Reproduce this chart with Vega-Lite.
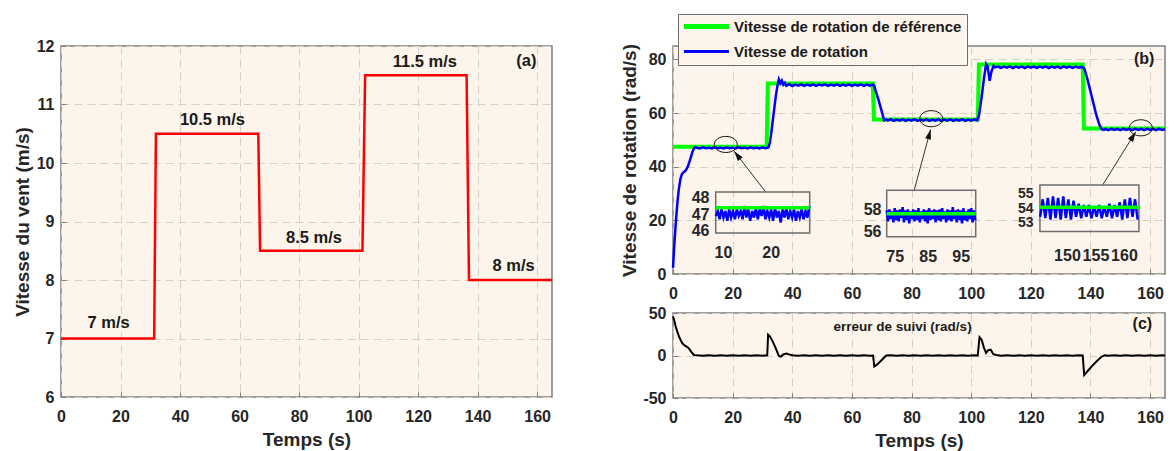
{
"$schema": "https://vega.github.io/schema/vega-lite/v6.json",
"background": "white",
"padding": {"left": 12, "top": 13, "right": 5, "bottom": 5},
"bounds": "flush",
"spacing": 121,
"datasets": {
 "wind": [{"t":0,"v":7},{"t":31.3,"v":7},{"t":31.9,"v":10.5},{"t":66.3,"v":10.5},{"t":66.9,"v":8.5},{"t":101.3,"v":8.5},{"t":102.2,"v":11.5},{"t":136.3,"v":11.5},{"t":137.1,"v":8},{"t":165,"v":8}],
 "windLabels": [{"t":16,"v":7.26,"label":"7 m/s"},{"t":50.9,"v":10.74,"label":"10.5 m/s"},{"t":85,"v":8.71,"label":"8.5 m/s"},{"t":122.3,"v":11.72,"label":"11.5 m/s"},{"t":152.1,"v":8.24,"label":"8 m/s"},{"t":156.4,"v":11.74,"label":"(a)"}],
 "ref": [{"t":0,"v":47.4},{"t":31.4,"v":47.4},{"t":31.8,"v":71.0},{"t":67.0,"v":71.0},{"t":67.4,"v":57.6},{"t":102.2,"v":57.6},{"t":102.6,"v":78.1},{"t":137.4,"v":78.1},{"t":137.8,"v":54.2},{"t":165,"v":54.2}],
 "speed": [{"t":0,"v":2.3},{"t":0.5,"v":12},{"t":1,"v":20},{"t":1.5,"v":27},{"t":2,"v":32},{"t":2.5,"v":35.5},{"t":3,"v":37.2},{"t":3.5,"v":37.9},{"t":4,"v":38.3},{"t":4.5,"v":39},{"t":5,"v":40.2},{"t":5.5,"v":41.8},{"t":6,"v":43.6},{"t":6.5,"v":45.4},{"t":7,"v":46.8},{"t":7.5,"v":47.3},{"t":8,"v":47.0},{"t":9,"v":46.8},{"t":10,"v":47.2},{"t":11,"v":46.9},{"t":12,"v":47.1},{"t":13,"v":46.8},{"t":14,"v":47.2},{"t":15,"v":46.9},{"t":16,"v":47.1},{"t":17,"v":46.8},{"t":18,"v":47.2},{"t":19,"v":46.9},{"t":20,"v":47.1},{"t":21,"v":46.8},{"t":22,"v":47.2},{"t":23,"v":46.9},{"t":24,"v":47.1},{"t":25,"v":46.8},{"t":26,"v":47.2},{"t":27,"v":46.9},{"t":28,"v":47.1},{"t":29,"v":46.8},{"t":30,"v":47.2},{"t":31,"v":46.9},{"t":32,"v":47.2},{"t":32.5,"v":49},{"t":33,"v":53},{"t":33.5,"v":57.5},{"t":34,"v":62},{"t":34.5,"v":66.5},{"t":35,"v":70},{"t":35.5,"v":72.6},{"t":36,"v":71.2},{"t":36.5,"v":72.1},{"t":37,"v":70.6},{"t":37.5,"v":71.3},{"t":38,"v":70.2},{"t":39,"v":70.8},{"t":40,"v":70.1},{"t":41,"v":70.6},{"t":42,"v":70.2},{"t":43,"v":70.7},{"t":44,"v":70.1},{"t":45,"v":70.6},{"t":46,"v":70.2},{"t":47,"v":70.7},{"t":48,"v":70.1},{"t":49,"v":70.6},{"t":50,"v":70.3},{"t":51,"v":70.7},{"t":52,"v":70.1},{"t":53,"v":70.6},{"t":54,"v":70.2},{"t":55,"v":70.7},{"t":56,"v":70.1},{"t":57,"v":70.6},{"t":58,"v":70.2},{"t":59,"v":70.7},{"t":60,"v":70.1},{"t":61,"v":70.6},{"t":62,"v":70.2},{"t":63,"v":70.7},{"t":64,"v":70.1},{"t":65,"v":70.6},{"t":66,"v":70.2},{"t":67,"v":70.6},{"t":67.5,"v":70.2},{"t":68,"v":68.2},{"t":69,"v":64.6},{"t":70,"v":60.6},{"t":70.8,"v":57.3},{"t":71.5,"v":57.6},{"t":72,"v":57.2},{"t":73,"v":57.7},{"t":74,"v":57.1},{"t":75,"v":57.6},{"t":76,"v":57.2},{"t":77,"v":57.7},{"t":78,"v":57.1},{"t":79,"v":57.6},{"t":80,"v":57.2},{"t":81,"v":57.7},{"t":82,"v":57.1},{"t":83,"v":57.6},{"t":84,"v":57.2},{"t":85,"v":57.7},{"t":86,"v":57.1},{"t":87,"v":57.6},{"t":88,"v":57.2},{"t":89,"v":57.7},{"t":90,"v":57.1},{"t":91,"v":57.6},{"t":92,"v":57.2},{"t":93,"v":57.7},{"t":94,"v":57.1},{"t":95,"v":57.6},{"t":96,"v":57.2},{"t":97,"v":57.7},{"t":98,"v":57.1},{"t":99,"v":57.6},{"t":100,"v":57.2},{"t":101,"v":57.7},{"t":102,"v":57.3},{"t":102.6,"v":59},{"t":103.5,"v":66},{"t":104.3,"v":73},{"t":105,"v":78.3},{"t":105.5,"v":77.4},{"t":106.2,"v":72},{"t":106.8,"v":75.5},{"t":107.5,"v":77.6},{"t":108,"v":77.0},{"t":109,"v":77.3},{"t":110,"v":76.8},{"t":111,"v":77.3},{"t":112,"v":76.9},{"t":113,"v":77.4},{"t":114,"v":76.8},{"t":115,"v":77.3},{"t":116,"v":76.9},{"t":117,"v":77.3},{"t":118,"v":76.8},{"t":119,"v":77.4},{"t":120,"v":76.9},{"t":121,"v":77.3},{"t":122,"v":76.8},{"t":123,"v":77.3},{"t":124,"v":76.9},{"t":125,"v":77.4},{"t":126,"v":76.8},{"t":127,"v":77.3},{"t":128,"v":76.9},{"t":129,"v":77.3},{"t":130,"v":76.8},{"t":131,"v":77.4},{"t":132,"v":76.9},{"t":133,"v":77.3},{"t":134,"v":76.8},{"t":135,"v":77.3},{"t":136,"v":76.9},{"t":137,"v":77.2},{"t":137.6,"v":77.0},{"t":138,"v":76.4},{"t":139,"v":72.6},{"t":140,"v":68.1},{"t":141,"v":63.6},{"t":142,"v":59.1},{"t":143,"v":55.6},{"t":143.8,"v":54.0},{"t":144.5,"v":53.7},{"t":145,"v":54.1},{"t":146,"v":53.6},{"t":147,"v":54.2},{"t":148,"v":53.7},{"t":149,"v":54.1},{"t":150,"v":53.6},{"t":151,"v":54.2},{"t":152,"v":53.7},{"t":153,"v":54.1},{"t":154,"v":53.6},{"t":155,"v":54.2},{"t":156,"v":53.7},{"t":157,"v":54.1},{"t":158,"v":53.6},{"t":159,"v":54.2},{"t":160,"v":53.7},{"t":161,"v":54.1},{"t":162,"v":53.6},{"t":163,"v":54.2},{"t":164,"v":53.7},{"t":165,"v":54.0}],
 "err": [{"t":0,"v":46},{"t":0.5,"v":40},{"t":1,"v":33},{"t":1.5,"v":27.5},{"t":2,"v":22.5},{"t":2.6,"v":18},{"t":3.2,"v":14},{"t":4,"v":11.5},{"t":5,"v":9.5},{"t":5.5,"v":7.5},{"t":6.2,"v":4},{"t":7,"v":0.6},{"t":8,"v":0.2},{"t":10,"v":-0.3},{"t":12,"v":0.3},{"t":14,"v":-0.2},{"t":16,"v":0.3},{"t":18,"v":-0.3},{"t":20,"v":0.2},{"t":22,"v":-0.2},{"t":24,"v":0.3},{"t":26,"v":-0.3},{"t":28,"v":0.2},{"t":30,"v":-0.2},{"t":31.6,"v":0.2},{"t":31.9,"v":24.5},{"t":32.5,"v":22.5},{"t":33.5,"v":16},{"t":34.5,"v":8},{"t":35.5,"v":-0.5},{"t":36.2,"v":-1.2},{"t":37,"v":1.3},{"t":38,"v":2.3},{"t":39,"v":1.2},{"t":40,"v":0.4},{"t":42,"v":-0.2},{"t":44,"v":0.3},{"t":46,"v":-0.3},{"t":48,"v":0.2},{"t":50,"v":-0.2},{"t":52,"v":0.3},{"t":54,"v":-0.3},{"t":56,"v":0.2},{"t":58,"v":-0.2},{"t":60,"v":0.3},{"t":62,"v":-0.3},{"t":64,"v":0.2},{"t":66,"v":-0.2},{"t":67.1,"v":0},{"t":67.5,"v":-13},{"t":68.5,"v":-10.5},{"t":69.5,"v":-7},{"t":70.5,"v":-3.5},{"t":71.5,"v":0},{"t":73,"v":0.3},{"t":75,"v":-0.3},{"t":77,"v":0.2},{"t":79,"v":-0.2},{"t":81,"v":0.3},{"t":83,"v":-0.3},{"t":85,"v":0.2},{"t":87,"v":-0.2},{"t":89,"v":0.3},{"t":91,"v":-0.3},{"t":93,"v":0.2},{"t":95,"v":-0.2},{"t":97,"v":0.3},{"t":99,"v":-0.3},{"t":101,"v":0.2},{"t":102.2,"v":0.1},{"t":102.8,"v":21.5},{"t":103.5,"v":18.5},{"t":104.3,"v":9},{"t":105,"v":3},{"t":105.8,"v":6.5},{"t":106.6,"v":6.8},{"t":107.4,"v":1.5},{"t":108.5,"v":0.5},{"t":110,"v":-0.2},{"t":112,"v":0.3},{"t":114,"v":-0.3},{"t":116,"v":0.2},{"t":118,"v":-0.2},{"t":120,"v":0.3},{"t":122,"v":-0.3},{"t":124,"v":0.2},{"t":126,"v":-0.2},{"t":128,"v":0.3},{"t":130,"v":-0.3},{"t":132,"v":0.2},{"t":134,"v":-0.2},{"t":136,"v":0.3},{"t":137.4,"v":0.1},{"t":137.9,"v":-23},{"t":139,"v":-18.5},{"t":140.5,"v":-12.5},{"t":142,"v":-7},{"t":143.5,"v":-2},{"t":144.7,"v":0.3},{"t":146,"v":-0.2},{"t":148,"v":0.3},{"t":150,"v":-0.3},{"t":152,"v":0.2},{"t":154,"v":-0.2},{"t":156,"v":0.3},{"t":158,"v":-0.3},{"t":160,"v":0.2},{"t":162,"v":-0.2},{"t":164,"v":0.3},{"t":165,"v":0}],
 "zoomMarks": [{"t":17.7,"v":48.3},{"t":86.6,"v":57.9},{"t":156.9,"v":54.5}],
 "arrows": [{"id":1,"t":31.1,"v":30.55,"t2":20.5,"v2":45.8},{"id":2,"t":80.8,"v":30.9,"t2":86.4,"v2":53.9},{"id":3,"t":144.0,"v":33.0,"t2":155.2,"v2":53.0}],
 "boxes": [{"id":1,"t":8.47,"t2":28.18,"v":45.87,"v2":48.35},{"id":2,"t":72.58,"t2":99.55,"v":55.47,"v2":59.75},{"id":3,"t":145.26,"t2":162.63,"v":52.38,"v2":55.59}],
 "inRef": [{"id":1,"t":8.47,"v":47.4},{"id":1,"t":28.18,"v":47.4},{"id":2,"t":72.58,"v":57.6},{"id":2,"t":99.55,"v":57.6},{"id":3,"t":145.26,"v":54.05},{"id":3,"t":162.63,"v":54.05}],
 "in1": [{"t":8.5,"v":46.9},{"t":8.9,"v":47.2},{"t":9.3,"v":46.7},{"t":9.7,"v":47.3},{"t":10.1,"v":46.8},{"t":10.5,"v":47.2},{"t":10.9,"v":46.6},{"t":11.3,"v":47.3},{"t":11.7,"v":46.8},{"t":12.1,"v":47.2},{"t":12.5,"v":46.7},{"t":12.9,"v":47.3},{"t":13.3,"v":46.9},{"t":13.7,"v":47.2},{"t":14.1,"v":46.7},{"t":14.5,"v":47.5},{"t":14.9,"v":46.8},{"t":15.3,"v":47.3},{"t":15.7,"v":46.6},{"t":16.1,"v":47.2},{"t":16.5,"v":46.8},{"t":16.9,"v":47.4},{"t":17.3,"v":46.7},{"t":17.7,"v":47.3},{"t":18.1,"v":46.9},{"t":18.5,"v":47.5},{"t":18.9,"v":46.7},{"t":19.3,"v":47.2},{"t":19.7,"v":46.8},{"t":20.1,"v":47.3},{"t":20.5,"v":46.6},{"t":20.9,"v":47.4},{"t":21.3,"v":46.8},{"t":21.7,"v":47.2},{"t":22.1,"v":46.5},{"t":22.5,"v":47.3},{"t":22.9,"v":46.8},{"t":23.3,"v":47.4},{"t":23.7,"v":46.7},{"t":24.1,"v":47.2},{"t":24.5,"v":46.8},{"t":24.9,"v":47.3},{"t":25.3,"v":46.6},{"t":25.7,"v":47.2},{"t":26.1,"v":46.8},{"t":26.5,"v":47.3},{"t":26.9,"v":46.7},{"t":27.3,"v":47.2},{"t":27.7,"v":46.8},{"t":28.1,"v":47.5}],
 "in2": [{"t":72.6,"v":57.9},{"t":73.0,"v":56.9},{"t":73.4,"v":58.0},{"t":73.8,"v":57.1},{"t":74.2,"v":57.8},{"t":74.6,"v":56.8},{"t":75.0,"v":58.1},{"t":75.4,"v":57.0},{"t":75.8,"v":57.9},{"t":76.2,"v":56.9},{"t":76.6,"v":58.0},{"t":77.0,"v":57.2},{"t":77.4,"v":58.2},{"t":77.8,"v":56.8},{"t":78.2,"v":57.9},{"t":78.6,"v":57.0},{"t":79.0,"v":58.0},{"t":79.4,"v":56.7},{"t":79.8,"v":57.8},{"t":80.2,"v":57.1},{"t":80.6,"v":58.0},{"t":81.0,"v":56.9},{"t":81.4,"v":57.9},{"t":81.8,"v":57.0},{"t":82.2,"v":58.1},{"t":82.6,"v":56.8},{"t":83.0,"v":57.8},{"t":83.4,"v":57.1},{"t":83.8,"v":58.0},{"t":84.2,"v":56.9},{"t":84.6,"v":57.9},{"t":85.0,"v":56.7},{"t":85.4,"v":58.1},{"t":85.8,"v":57.0},{"t":86.2,"v":57.9},{"t":86.6,"v":57.1},{"t":87.0,"v":58.0},{"t":87.4,"v":56.8},{"t":87.8,"v":57.9},{"t":88.2,"v":57.0},{"t":88.6,"v":58.0},{"t":89.0,"v":56.9},{"t":89.4,"v":58.1},{"t":89.8,"v":57.1},{"t":90.2,"v":57.8},{"t":90.6,"v":56.8},{"t":91.0,"v":58.0},{"t":91.4,"v":57.0},{"t":91.8,"v":57.9},{"t":92.2,"v":56.9},{"t":92.6,"v":58.2},{"t":93.0,"v":57.1},{"t":93.4,"v":57.9},{"t":93.8,"v":56.8},{"t":94.2,"v":58.0},{"t":94.6,"v":57.0},{"t":95.0,"v":57.9},{"t":95.4,"v":56.7},{"t":95.8,"v":58.1},{"t":96.2,"v":57.0},{"t":96.6,"v":57.8},{"t":97.0,"v":56.9},{"t":97.4,"v":58.0},{"t":97.8,"v":57.1},{"t":98.2,"v":58.1},{"t":98.6,"v":56.8},{"t":99.0,"v":57.9},{"t":99.4,"v":57.0}],
 "in3": [{"t":145.3,"v":53.4},{"t":145.75,"v":54.6},{"t":146.2,"v":53.3},{"t":146.65,"v":54.7},{"t":147.1,"v":53.2},{"t":147.55,"v":54.8},{"t":148.0,"v":53.3},{"t":148.45,"v":54.7},{"t":148.9,"v":53.2},{"t":149.35,"v":54.8},{"t":149.8,"v":53.3},{"t":150.25,"v":54.6},{"t":150.7,"v":53.2},{"t":151.15,"v":54.5},{"t":151.6,"v":53.4},{"t":152.05,"v":54.3},{"t":152.5,"v":53.3},{"t":152.95,"v":54.2},{"t":153.4,"v":53.4},{"t":153.85,"v":54.2},{"t":154.3,"v":53.3},{"t":154.75,"v":54.1},{"t":155.2,"v":53.4},{"t":155.65,"v":54.2},{"t":156.1,"v":53.3},{"t":156.55,"v":54.1},{"t":157.0,"v":53.4},{"t":157.45,"v":54.3},{"t":157.9,"v":53.3},{"t":158.35,"v":54.2},{"t":158.8,"v":53.4},{"t":159.25,"v":54.4},{"t":159.7,"v":53.2},{"t":160.15,"v":54.6},{"t":160.6,"v":53.3},{"t":161.05,"v":54.7},{"t":161.5,"v":53.4},{"t":161.95,"v":54.6},{"t":162.4,"v":53.2}]
},
"hconcat": [
 {
  "width": 491, "height": 351,
  "layer": [
   {"data": {"name": "wind"}, "mark": {"type": "line", "color": "#ff0000", "strokeWidth": 2.5},
    "encoding": {
     "x": {"field": "t", "type": "quantitative", "scale": {"domain": [0, 165], "nice": false, "zero": false}, "axis": {"values": [0,20,40,60,80,100,120,140,160], "title": "Temps (s)", "titlePadding": 6}},
     "y": {"field": "v", "type": "quantitative", "scale": {"domain": [6, 12], "nice": false, "zero": false}, "axis": {"values": [6,7,8,9,10,11,12], "title": "Vitesse du vent (m/s)", "titlePadding": 4}}
    }},
   {"data": {"name": "windLabels"}, "mark": {"type": "text", "fontSize": 16.5, "color": "#1a1a1a", "baseline": "middle"},
    "encoding": {"x": {"field": "t", "type": "quantitative"}, "y": {"field": "v", "type": "quantitative"}, "text": {"field": "label"}}}
  ]
 },
 {
  "vconcat": [
   {
    "width": 492, "height": 228,
    "layer": [
     {
      "layer": [
       {"data": {"name": "ref"}, "mark": {"type": "line", "strokeWidth": 4},
        "encoding": {
         "x": {"field": "t", "type": "quantitative", "scale": {"domain": [0, 165], "nice": false, "zero": false}, "axis": {"values": [0,20,40,60,80,100,120,140,160], "title": null}},
         "y": {"field": "v", "type": "quantitative", "scale": {"domain": [0, 85], "nice": false, "zero": false}, "axis": {"values": [0,20,40,60,80], "title": "Vitesse de rotation (rad/s)", "titlePadding": 9}},
         "color": {"datum": "Vitesse de rotation de référence", "type": "nominal",
           "scale": {"domain": ["Vitesse de rotation de référence", "Vitesse de rotation"], "range": ["#00ff00", "#0000ff"]},
           "legend": {"orient": "none", "legendX": 617, "legendY": -32, "title": null, "symbolType": "M-3,0H3", "symbolSize": 225, "symbolStrokeWidth": 4, "symbolOffset": 16, "labelOffset": 20, "labelFontSize": 15, "labelFont": "Liberation Sans", "labelFontWeight": "bold", "labelColor": "#1a1a1a", "labelLimit": 400, "fillColor": "#fdf5eb", "strokeColor": "#6e6e6e", "padding": 5, "rowPadding": 7,
             "encode": {"symbols": {"update": {"strokeWidth": {"signal": "datum.value === 'Vitesse de rotation' ? 3 : 5"}}}}}
         }
        }},
       {"data": {"name": "speed"}, "mark": {"type": "line", "strokeWidth": 2.5},
        "encoding": {
         "x": {"field": "t", "type": "quantitative"},
         "y": {"field": "v", "type": "quantitative"},
         "color": {"datum": "Vitesse de rotation", "type": "nominal"}
        }},
       {"data": {"name": "zoomMarks"}, "mark": {"type": "point", "shape": "M-1,0A1,0.7,0,1,0,1,0A1,0.7,0,1,0,-1,0Z", "size": 529, "filled": false, "stroke": "#111111", "strokeWidth": 1, "opacity": 1},
        "encoding": {"x": {"field": "t", "type": "quantitative"}, "y": {"field": "v", "type": "quantitative"}}},
       {"data": {"name": "arrows"}, "mark": {"type": "rule", "color": "#333333", "strokeWidth": 1},
        "encoding": {"x": {"field": "t", "type": "quantitative"}, "y": {"field": "v", "type": "quantitative"}, "x2": {"field": "t2"}, "y2": {"field": "v2"}}},
       {"data": {"name": "arrows"}, "transform": [{"filter": "datum.id == 1"}], "mark": {"type": "point", "shape": "M0,0L0.6,2L-0.6,2Z", "size": 100, "filled": true, "color": "#111111", "opacity": 1, "angle": 322},
        "encoding": {"x": {"field": "t2", "type": "quantitative"}, "y": {"field": "v2", "type": "quantitative"}}},
       {"data": {"name": "arrows"}, "transform": [{"filter": "datum.id == 2"}], "mark": {"type": "point", "shape": "M0,0L0.6,2L-0.6,2Z", "size": 100, "filled": true, "color": "#111111", "opacity": 1, "angle": 15},
        "encoding": {"x": {"field": "t2", "type": "quantitative"}, "y": {"field": "v2", "type": "quantitative"}}},
       {"data": {"name": "arrows"}, "transform": [{"filter": "datum.id == 3"}], "mark": {"type": "point", "shape": "M0,0L0.6,2L-0.6,2Z", "size": 100, "filled": true, "color": "#111111", "opacity": 1, "angle": 32},
        "encoding": {"x": {"field": "t2", "type": "quantitative"}, "y": {"field": "v2", "type": "quantitative"}}},
       {"data": {"values": [{"t": 158, "v": 80, "label": "(b)"}]}, "mark": {"type": "text", "fontSize": 16, "color": "#1a1a1a", "baseline": "middle"},
        "encoding": {"x": {"field": "t", "type": "quantitative"}, "y": {"field": "v", "type": "quantitative"}, "text": {"field": "label"}}}
      ]
     },
     {
      "layer": [
       {"data": {"name": "boxes"}, "transform": [{"filter": "datum.id == 1"}], "mark": {"type": "rect", "filled": false, "stroke": "#6e6e6e", "strokeWidth": 1.5},
        "encoding": {
         "x": {"field": "t", "type": "quantitative", "scale": {"domain": [-0.48, 102.66], "nice": false, "zero": false}, "axis": {"orient": "bottom", "offset": -30, "values": [10, 20], "grid": false, "ticks": false, "tickSize": 0, "domain": false, "labelPadding": 0, "title": null}},
         "x2": {"field": "t2"},
         "y": {"field": "v", "type": "quantitative", "scale": {"domain": [43.38, 57.2], "nice": false, "zero": false}, "axis": {"orient": "left", "offset": -36, "values": [46, 47, 48], "grid": false, "ticks": false, "tickSize": 0, "domain": false, "labelPadding": 0, "title": null}},
         "y2": {"field": "v2"}
        }},
       {"data": {"name": "in1"}, "mark": {"type": "line", "color": "#0000ff", "strokeWidth": 2.5},
        "encoding": {"x": {"field": "t", "type": "quantitative"}, "y": {"field": "v", "type": "quantitative"}}},
       {"data": {"name": "inRef"}, "transform": [{"filter": "datum.id == 1"}], "mark": {"type": "line", "color": "#00ff00", "strokeWidth": 3.5},
        "encoding": {"x": {"field": "t", "type": "quantitative"}, "y": {"field": "v", "type": "quantitative"}}}
      ]
     },
     {
      "layer": [
       {"data": {"name": "boxes"}, "transform": [{"filter": "datum.id == 2"}], "mark": {"type": "rect", "filled": false, "stroke": "#6e6e6e", "strokeWidth": 1.5},
        "encoding": {
         "x": {"field": "t", "type": "quantitative", "scale": {"domain": [7.82, 156.91], "nice": false, "zero": false}, "axis": {"orient": "bottom", "offset": -26, "values": [75, 85, 95], "grid": false, "ticks": false, "tickSize": 0, "domain": false, "labelPadding": 0, "title": null}},
         "x2": {"field": "t2"},
         "y": {"field": "v", "type": "quantitative", "scale": {"domain": [52.04, 73.05], "nice": false, "zero": false}, "axis": {"orient": "left", "offset": -208, "values": [56, 58], "grid": false, "ticks": false, "tickSize": 0, "domain": false, "labelPadding": 0, "title": null}},
         "y2": {"field": "v2"}
        }},
       {"data": {"name": "in2"}, "mark": {"type": "line", "color": "#0000ff", "strokeWidth": 2.5},
        "encoding": {"x": {"field": "t", "type": "quantitative"}, "y": {"field": "v", "type": "quantitative"}}},
       {"data": {"name": "inRef"}, "transform": [{"filter": "datum.id == 2"}], "mark": {"type": "line", "color": "#00ff00", "strokeWidth": 3.5},
        "encoding": {"x": {"field": "t", "type": "quantitative"}, "y": {"field": "v", "type": "quantitative"}}}
      ]
     },
     {
      "layer": [
       {"data": {"name": "boxes"}, "transform": [{"filter": "datum.id == 3"}], "mark": {"type": "rect", "filled": false, "stroke": "#6e6e6e", "strokeWidth": 1.5},
        "encoding": {
         "x": {"field": "t", "type": "quantitative", "scale": {"domain": [80.88, 167.2], "nice": false, "zero": false}, "axis": {"orient": "bottom", "offset": -27, "values": [150, 155, 160], "grid": false, "ticks": false, "tickSize": 0, "domain": false, "labelPadding": 0, "title": null}},
         "x2": {"field": "t2"},
         "y": {"field": "v", "type": "quantitative", "scale": {"domain": [49.45, 65.17], "nice": false, "zero": false}, "axis": {"orient": "left", "offset": -360, "values": [53, 54, 55], "grid": false, "ticks": false, "tickSize": 0, "domain": false, "labelPadding": 0, "title": null, "labelFontSize": 14}},
         "y2": {"field": "v2"}
        }},
       {"data": {"name": "in3"}, "mark": {"type": "line", "color": "#0000ff", "strokeWidth": 2.5},
        "encoding": {"x": {"field": "t", "type": "quantitative"}, "y": {"field": "v", "type": "quantitative"}}},
       {"data": {"name": "inRef"}, "transform": [{"filter": "datum.id == 3"}], "mark": {"type": "line", "color": "#00ff00", "strokeWidth": 3.5},
        "encoding": {"x": {"field": "t", "type": "quantitative"}, "y": {"field": "v", "type": "quantitative"}}}
      ]
     }
    ],
    "resolve": {"scale": {"x": "independent", "y": "independent"}}
   },
   {
    "width": 492, "height": 85,
    "layer": [
     {"data": {"name": "err"}, "mark": {"type": "line", "color": "#000000", "strokeWidth": 2},
      "encoding": {
       "x": {"field": "t", "type": "quantitative", "scale": {"domain": [0, 165], "nice": false, "zero": false}, "axis": {"values": [0,20,40,60,80,100,120,140,160], "title": "Temps (s)", "titlePadding": 6}},
       "y": {"field": "v", "type": "quantitative", "scale": {"domain": [-50, 50], "nice": false, "zero": false}, "axis": {"values": [-50, 0, 50], "title": null}}
      }},
     {"data": {"values": [{"t": 77, "v": 33.7, "label": "erreur de suivi (rad/s)"}]}, "mark": {"type": "text", "fontSize": 13.5, "color": "#1a1a1a", "baseline": "middle"},
      "encoding": {"x": {"field": "t", "type": "quantitative"}, "y": {"field": "v", "type": "quantitative"}, "text": {"field": "label"}}},
     {"data": {"values": [{"t": 157.4, "v": 36.9, "label": "(c)"}]}, "mark": {"type": "text", "fontSize": 16, "color": "#1a1a1a", "baseline": "middle"},
      "encoding": {"x": {"field": "t", "type": "quantitative"}, "y": {"field": "v", "type": "quantitative"}, "text": {"field": "label"}}}
    ]
   }
  ],
  "spacing": 39,
  "bounds": "flush"
 }
],
"config": {
 "font": "Liberation Sans",
 "view": {"fill": "#fdf5eb", "stroke": "#7f7f7f", "strokeWidth": 1.5},
 "axis": {"labelFont": "Liberation Sans", "labelFontSize": 16, "labelFontWeight": "bold", "labelColor": "#262626", "titleFont": "Liberation Sans", "titleFontSize": 19, "titleFontWeight": "bold", "titleColor": "#262626", "domain": false, "grid": true, "gridColor": "#d6d0c6", "gridDash": [8, 5], "gridWidth": 1, "tickColor": "#7f7f7f", "tickSize": -5, "tickWidth": 1, "labelFlush": false, "labelOverlap": false, "labelBound": false, "labelExpr": "'' + datum.value"},
 "axisX": {"labelPadding": 16},
 "axisY": {"labelPadding": 12},
 "text": {"font": "Liberation Sans", "fontWeight": "bold"}
}
}
